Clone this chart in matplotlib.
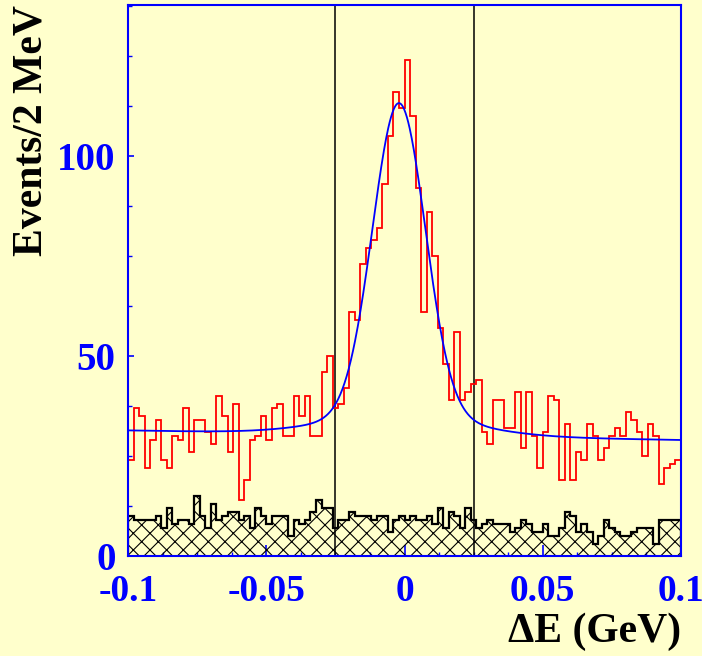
import numpy as np
import matplotlib
matplotlib.use("Agg")
import matplotlib.pyplot as plt
from matplotlib.ticker import MultipleLocator, FixedLocator, FixedFormatter

# ---------------- data ----------------
x_min, x_max = -0.1, 0.1
n_bins = 100
y_max = 137.75

# red histogram (events / 2 MeV)
signal_counts = [24, 37, 35, 22, 29, 34, 24, 22, 30, 29,
                 37, 26, 34, 34, 31, 28, 40, 35, 26, 38,
                 14, 19, 29, 30, 35, 29, 37, 38, 30, 30,
                 40, 35, 40, 30, 30, 46, 50, 37, 38, 42,
                 61, 59, 73, 77, 79, 82, 93, 105, 116, 112,
                 124, 110, 92, 61, 86, 75, 57, 48, 39, 56,
                 39, 41, 43, 44, 31, 28, 39, 39, 32, 32,
                 41, 27, 41, 30, 22, 31, 40, 39, 19, 33,
                 19, 26, 24, 33, 30, 24, 27, 30, 32, 30,
                 36, 34, 31, 25, 33, 30, 18, 22, 23, 24]

# black hatched histogram
background_counts = [10, 9, 9, 9, 9, 10, 7, 12, 8, 9,
                     9, 8, 15, 10, 7, 13, 9, 10, 11, 11,
                     9, 10, 7, 12, 10, 8, 10, 10, 10, 5,
                     9, 8, 9, 11, 14, 12, 12, 7, 9, 9,
                     11, 10, 10, 10, 9, 10, 10, 6, 9, 10,
                     9, 10, 9, 9, 10, 8, 12, 7, 11, 10,
                     7, 12, 9, 7, 8, 9, 8, 8, 8, 6,
                     7, 9, 8, 6, 6, 8, 5, 5, 7, 11,
                     10, 6, 8, 6, 3, 5, 9, 7, 6, 5,
                     5, 6, 7, 7, 7, 3, 9, 9, 9, 9]

# fit function parameters
fit_mean = -0.002
core_amp = 78.0
core_sigma = 0.0095
tail_amp = 5.0
tail_sigma = 0.025
bkg_const = 30.2
bkg_slope = -12.0

# signal window
window_edges = [-0.025, 0.025]

x_ticks = [-0.1, -0.05, 0.0, 0.05, 0.1]
x_tick_labels = ["-0.1", "-0.05", "0", "0.05", "0.1"]
y_ticks = [0, 50, 100]
y_tick_labels = ["0", "50", "100"]


def fit_func(x):
    return (core_amp * np.exp(-0.5 * ((x - fit_mean) / core_sigma) ** 2)
            + tail_amp * np.exp(-0.5 * ((x - fit_mean) / tail_sigma) ** 2)
            + bkg_const + bkg_slope * x)


# ---------------- style ----------------
yellow = "#ffffcc"
plt.rcParams["hatch.color"] = "black"
plt.rcParams["hatch.linewidth"] = 0.8
serif = ["Liberation Serif", "DejaVu Serif"]

W, H = 702, 656
fig = plt.figure(figsize=(W / 100, H / 100), dpi=100, facecolor=yellow)
left, right, top, bottom = 128, 681, 5, 556
ax = fig.add_axes([left / W, 1 - bottom / H, (right - left) / W, (bottom - top) / H])
ax.set_facecolor(yellow)

edges = np.linspace(x_min, x_max, n_bins + 1)

ax.stairs(background_counts, edges, fill=True, facecolor="none",
          edgecolor="black", hatch="xx", linewidth=0, zorder=2)
ax.stairs(background_counts, edges, color="black", linewidth=1.6, zorder=3)

for xv in window_edges:
    ax.axvline(xv, color="black", linewidth=1.1, zorder=4)

ax.stairs(signal_counts, edges, color="red", linewidth=1.3, zorder=5)

xf = np.linspace(x_min, x_max, 800)
ax.plot(xf, fit_func(xf), color="blue", linewidth=1.3, zorder=6)

ax.set_xlim(x_min, x_max)
ax.set_ylim(0, y_max)

for s in ax.spines.values():
    s.set_color("blue")
    s.set_linewidth(1.5)
    s.set_zorder(7)

ax.xaxis.set_major_locator(FixedLocator(x_ticks))
ax.xaxis.set_major_formatter(FixedFormatter(x_tick_labels))
ax.xaxis.set_minor_locator(MultipleLocator(0.0125))
ax.yaxis.set_major_locator(FixedLocator(y_ticks))
ax.yaxis.set_major_formatter(FixedFormatter(y_tick_labels))
ax.yaxis.set_minor_locator(MultipleLocator(12.5))

ax.tick_params(axis="x", which="major", direction="in", length=8, width=1.2,
               color="blue", labelcolor="blue", pad=13)
ax.tick_params(axis="x", which="minor", direction="in", length=3, width=1.0, color="blue")
ax.tick_params(axis="y", which="major", direction="in", length=4, width=1.2,
               color="blue", labelcolor="blue", pad=9)
ax.tick_params(axis="y", which="minor", direction="in", length=3, width=1.0, color="blue")

for lab in ax.get_xticklabels():
    lab.set_fontfamily(serif)
    lab.set_fontweight("bold")
    lab.set_fontsize(27)
for lab in ax.get_yticklabels():
    lab.set_fontfamily(serif)
    lab.set_fontweight("bold")
    lab.set_fontsize(28)

fig.text(32 / W, 1 - 130 / H, "Events/2 MeV", rotation=90, ha="center", va="center",
         fontsize=30, fontweight="bold", family=serif, color="black")
fig.text(681 / W, 1 - 632 / H, "\u0394E (GeV)", ha="right", va="center",
         fontsize=30, fontweight="bold", family=serif, color="black")

fig.savefig("out.png", dpi=100, facecolor=yellow)
